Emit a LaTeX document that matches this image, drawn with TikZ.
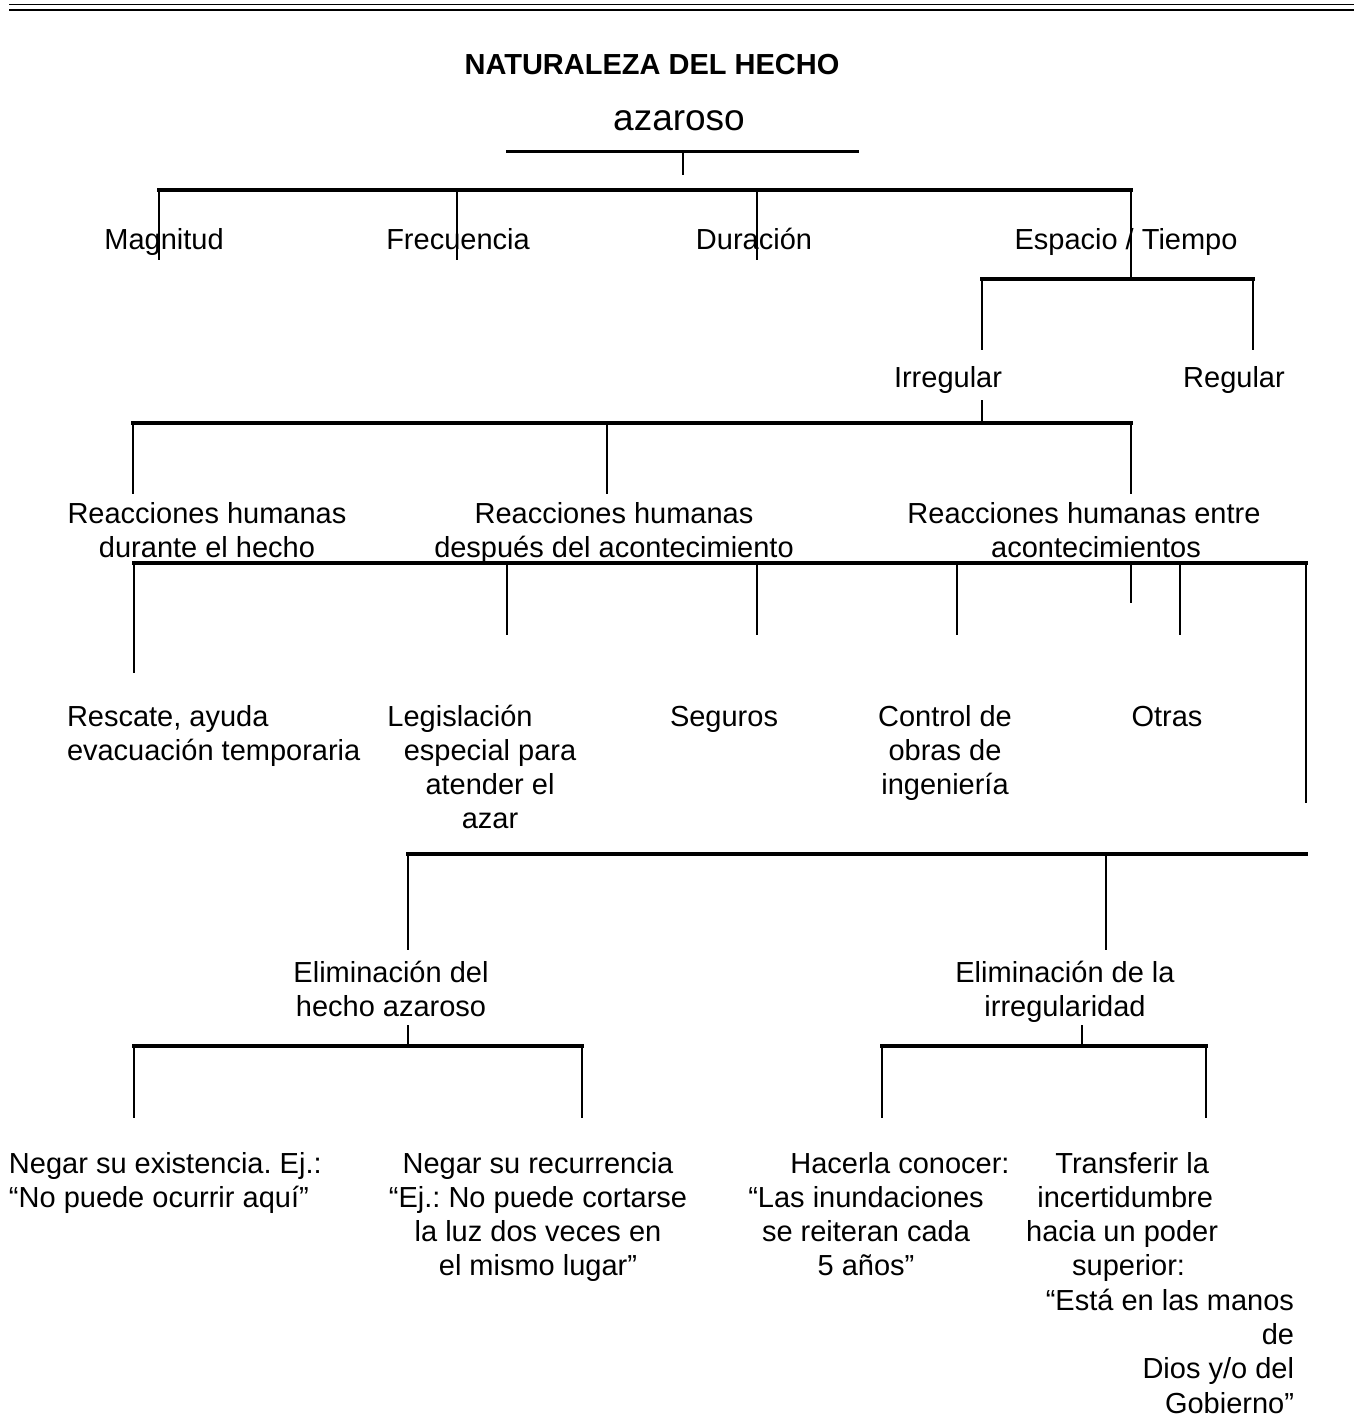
\documentclass[tikz,border=0pt]{standalone}
\usepackage{fontspec}
\setmainfont{Liberation Sans}
\newcommand\tstr{\rule{0pt}{22pt}}
\newcommand\hpad[1]{\rule{#1pt}{0pt}}
\frenchspacing
\begin{document}
\begin{tikzpicture}[x=1pt,y=-1pt,
  txt/.style={font=\fontsize{29}{34.3}\selectfont\frenchspacing, inner sep=0pt, outer sep=0pt},
  one/.style={txt, anchor=base},
  lblC/.style={txt, align=center, anchor=north},
  lblL/.style={txt, align=left, anchor=north west},
  lblR/.style={txt, align=right, anchor=north east},
  hl/.style={line width=3.2pt, line cap=rect},
  vl/.style={line width=2.4pt}]
\useasboundingbox (0,0) rectangle (1354,1420);

% top double rule
\coordinate (rA) at (9,4.5); \coordinate (rB) at (1354,4.5);
\coordinate (rC) at (9,10); \coordinate (rD) at (1354,10);
\draw[line width=1.3pt] (rA) -- (rB);
\draw[line width=2.6pt] (rC) -- (rD);

% title
\node[one, font=\fontsize{29}{34.3}\selectfont\bfseries] (title) at (652,75) {NATURALEZA DEL HECHO};
\node[one, font=\fontsize{37}{44}\selectfont] (az) at (679,131) {azaroso};

\coordinate (azL) at (508,151.5); \coordinate (azR) at (857,151.5);
\coordinate (azM) at (683,151.5); \coordinate (azS) at (683,175);
\draw[hl] (azL) -- (azR);
\draw[vl] (azM) -- (azS);

% level 1
\coordinate (k1) at (159,190); \coordinate (k2) at (457,190);
\coordinate (k3) at (757,190); \coordinate (k4) at (1131,190);
\coordinate (k1e) at (159,260); \coordinate (k2e) at (457,260);
\coordinate (k3e) at (757,260); \coordinate (k4e) at (1131,279);
\draw[hl] (k1) -- (k4);
\draw[vl] (k1) -- (k1e);
\draw[vl] (k2) -- (k2e);
\draw[vl] (k3) -- (k3e);
\draw[vl] (k4) -- (k4e);

\node[one] (mag) at (164,250) {Magnitud};
\node[one] (fre) at (458,250) {Frecuencia};
\node[one] (dur) at (754,250) {Duración};
\node[one] (esp) at (1126,250) {Espacio / Tiempo};

% espacio / tiempo
\coordinate (e1) at (982,279); \coordinate (e2) at (1253,279);
\coordinate (e1e) at (982,350); \coordinate (e2e) at (1253,350);
\draw[hl] (e1) -- (e2);
\draw[vl] (e1) -- (e1e);
\draw[vl] (e2) -- (e2e);
\node[one] (irr) at (948,387) {Irregular};
\node[one] (reg) at (1234,387) {Regular};

% irregular
\coordinate (irS) at (982,400); \coordinate (irM) at (982,423);
\coordinate (m1) at (133,423); \coordinate (m2) at (607,423); \coordinate (m3) at (1131,423);
\coordinate (m1e) at (133,494); \coordinate (m2e) at (607,494); \coordinate (m3e) at (1131,494);
\draw[vl] (irS) -- (irM);
\draw[hl] (m1) -- (m3);
\draw[vl] (m1) -- (m1e);
\draw[vl] (m2) -- (m2e);
\draw[vl] (m3) -- (m3e);

\node[lblC] (rh1) at (207,501) {\tstr Reacciones humanas\\durante el hecho};
\node[lblC] (rh2) at (614,501) {\tstr Reacciones humanas\\después del acontecimiento};
\node[lblC] (rh3) at (1084,501) {\tstr Reacciones humanas entre\\\hpad{24}acontecimientos};

% reactions
\coordinate (n1) at (134,563); \coordinate (n2) at (507,563); \coordinate (n3) at (757,563);
\coordinate (n4) at (957,563); \coordinate (n5) at (1131,563); \coordinate (n6) at (1180,563);
\coordinate (n7) at (1306,563);
\coordinate (n1e) at (134,673); \coordinate (n2e) at (507,635); \coordinate (n3e) at (757,635);
\coordinate (n4e) at (957,635); \coordinate (n5e) at (1131,603); \coordinate (n6e) at (1180,635);
\coordinate (n7e) at (1306,803);
\draw[hl] (n1) -- (n7);
\draw[vl] (n1) -- (n1e);
\draw[vl] (n2) -- (n2e);
\draw[vl] (n3) -- (n3e);
\draw[vl] (n4) -- (n4e);
\draw[vl] (n5) -- (n5e);
\draw[vl] (n6) -- (n6e);
\draw[vl] (n7) -- (n7e);

\node[lblL] (res) at (67,704) {\tstr Rescate, ayuda\\evacuación temporaria};
\node[lblC] (leg) at (490,704) {\tstr Legislación\hpad{60}\\especial para\\atender el\\azar};
\node[one] (seg) at (724,726) {Seguros};
\node[lblC] (con) at (945,704) {\tstr Control de\\obras de\\ingeniería};
\node[one] (otr) at (1167,726) {Otras};

% elimination
\coordinate (p1) at (408,854); \coordinate (p2) at (1106,854); \coordinate (p3) at (1306,854);
\coordinate (p1e) at (408,950); \coordinate (p2e) at (1106,950);
\draw[hl] (p1) -- (p3);
\draw[vl] (p1) -- (p1e);
\draw[vl] (p2) -- (p2e);

\node[lblC] (el1) at (391,960) {\tstr Eliminación del\\hecho azaroso};
\node[lblC] (el2) at (1065,960) {\tstr Eliminación de la\\irregularidad};

\coordinate (q1s) at (408,1025); \coordinate (q1m) at (408,1046);
\coordinate (q2s) at (1082,1025); \coordinate (q2m) at (1082,1046);
\coordinate (q1) at (134,1046); \coordinate (q2) at (582,1046);
\coordinate (q3) at (882,1046); \coordinate (q4) at (1206,1046);
\coordinate (q1e) at (134,1118); \coordinate (q2e) at (582,1118);
\coordinate (q3e) at (882,1118); \coordinate (q4e) at (1206,1118);
\draw[vl] (q1s) -- (q1m);
\draw[vl] (q2s) -- (q2m);
\draw[hl] (q1) -- (q2);
\draw[hl] (q3) -- (q4);
\draw[vl] (q1) -- (q1e);
\draw[vl] (q2) -- (q2e);
\draw[vl] (q3) -- (q3e);
\draw[vl] (q4) -- (q4e);

\node[lblL] (ne1) at (9,1151) {\tstr Negar su existencia. Ej.:\\“No puede ocurrir aquí”};
\node[lblC] (ne2) at (538,1151) {\tstr Negar su recurrencia\\“Ej.: No puede cortarse\\la luz dos veces en\\el mismo lugar”};
\node[lblC] (hac) at (866,1151) {\tstr\hpad{68}Hacerla conocer:\\“Las inundaciones\\se reiteran cada\\5 años”};
\node[lblR] (tra) at (1294,1151) {\tstr Transferir la\hpad{85}\\incertidumbre\hpad{81}\\hacia un poder\hpad{76}\\superior:\hpad{109}\\“Está en las manos\\de\\Dios y/o del\\Gobierno”};
\end{tikzpicture}
\end{document}
